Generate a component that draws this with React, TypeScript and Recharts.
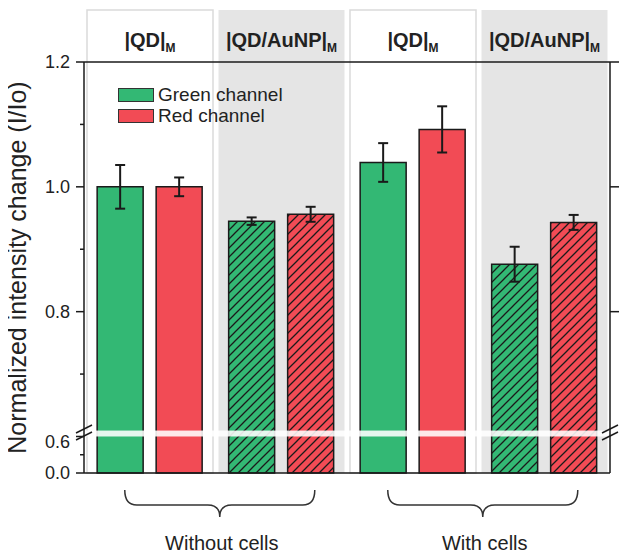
import {
  BarChart,
  Bar,
  XAxis,
  YAxis,
  ErrorBar,
  Cell,
  Legend,
  ReferenceArea,
  ReferenceLine,
} from 'recharts'

// broken y axis: 0-0.6 squeezed into a short segment, 0.6-1.2 at full scale

const CATEGORIES = ['|QD|', '|QD/AuNP|', '|QD|', '|QD/AuNP|']
const GROUPS = ['Without cells', 'Without cells', 'With cells', 'With cells']
const HATCHED = [false, true, false, true]
const GREEN = [1.0, 0.945, 1.039, 0.876]
const GREEN_ERR = [0.035, 0.006, 0.031, 0.028]
const RED = [1.0, 0.956, 1.092, 0.943]
const RED_ERR = [0.015, 0.012, 0.037, 0.012]
const MAJOR_TICKS = [0, 0.6, 0.8, 1.0, 1.2]
const MINOR_TICKS = [0.3, 0.7, 0.9, 1.1]
const RIGHT_TICKS = [0.8, 1.0, 1.2]
const BREAK_AT = 0.6
const Y_MAX = 1.2
const LOW_SPAN = 0.0585 // display height given to 0..0.6

const toDisp = (v: number) =>
  v <= BREAK_AT ? (v / BREAK_AT) * LOW_SPAN : LOW_SPAN + (v - BREAK_AT)
const D_MAX = toDisp(Y_MAX)

const COLORS = {
  green: '#33b874',
  red: '#f24b55',
  gray: '#e5e5e5',
  colBorder: '#dadada',
  ink: '#1a1a1a',
  text: '#222',
}

const FONT = '"Liberation Sans", Arial, Helvetica, sans-serif'
const W = 629
const H = 559
const PLOT_LEFT = 84
const PLOT_RIGHT = 610
const BAND = (PLOT_RIGHT - PLOT_LEFT) / CATEGORIES.length
const HEADER_H = 52

const data = CATEGORIES.map((label, i) => ({
  key: `c${i}`,
  label,
  group: GROUPS[i],
  hatched: HATCHED[i],
  green: toDisp(GREEN[i]),
  greenErr: GREEN_ERR[i],
  red: toDisp(RED[i]),
  redErr: RED_ERR[i],
  top: D_MAX,
}))

const isMajor = (v: number) => MAJOR_TICKS.find((t) => Math.abs(toDisp(t) - v) < 1e-6)

function LeftTick(props: any) {
  const { x, y, payload } = props
  const major = isMajor(payload.value)
  return (
    <g>
      <line x1={x - (major !== undefined ? 8 : 4)} x2={x} y1={y} y2={y} stroke={COLORS.ink} strokeWidth={1.5} />
      {major !== undefined && (
        <text
          x={x - 14}
          y={y + (major === BREAK_AT ? 12 : 6)}
          textAnchor="end"
          fontSize={18}
          fill={COLORS.text}
          fontFamily={FONT}
        >
          {major.toFixed(1)}
        </text>
      )}
    </g>
  )
}

function RightTick(props: any) {
  const { x, y } = props
  return <line x1={x} x2={x + 9} y1={y} y2={y} stroke={COLORS.ink} strokeWidth={1.5} />
}

// curly brace + group name under each pair of categories
function GroupTick(props: any) {
  const { x, y, index, payload } = props
  if (index % 2 !== 0) return <g />
  const xl = x - 0.19 * BAND
  const xr = x + 1.255 * BAND
  const xm = (xl + xr) / 2
  const yTop = y + 17
  const yMid = y + 32
  const yTip = y + 44
  const r = 12
  const d = `M${xl},${yTop} Q${xl},${yMid} ${xl + r},${yMid} L${xm - r},${yMid} Q${xm},${yMid} ${xm},${yTip} Q${xm},${yMid} ${xm + r},${yMid} L${xr - r},${yMid} Q${xr},${yMid} ${xr},${yTop}`
  const group = data[index]?.group ?? payload.value
  return (
    <g>
      <path d={d} fill="none" stroke="#333" strokeWidth={1.5} />
      <text x={xm + 2} y={y + 77} textAnchor="middle" fontSize={20} fill={COLORS.text} fontFamily={FONT}>
        {group}
      </text>
    </g>
  )
}

// gray / white column behind each category, with its header box
function ColumnShape(props: any) {
  const { x, y, width, height, payload } = props
  const top = y - HEADER_H
  return (
    <g>
      <rect
        x={x}
        y={top}
        width={width}
        height={height + HEADER_H}
        fill={payload.hatched ? COLORS.gray : '#fff'}
        stroke={payload.hatched ? 'none' : COLORS.colBorder}
        strokeWidth={1.5}
      />
      <text
        x={x + width / 2}
        y={top + 37}
        textAnchor="middle"
        fontSize={20}
        fontWeight="bold"
        fill={COLORS.text}
        fontFamily={FONT}
      >
        {payload.label}
        <tspan fontSize={12} dy={5}>
          M
        </tspan>
      </text>
    </g>
  )
}

function BreakShape(props: any) {
  const { x, y, width, height } = props
  const yc = y + height / 2 - 1
  const slash = (x0: number) =>
    [-3.5, 3.5].map((dy) => (
      <line
        key={`${x0}-${dy}`}
        x1={x0 - 8}
        y1={yc + dy + 4}
        x2={x0 + 8}
        y2={yc + dy - 4}
        stroke={COLORS.ink}
        strokeWidth={1.5}
      />
    ))
  return (
    <g>
      <rect x={x + 1} y={y} width={width - 2} height={height} fill="#fff" fillOpacity={0.88} />
      {slash(x)}
      {slash(x + width)}
    </g>
  )
}

function LegendContent(props: any) {
  const items = (props.payload || []).filter((p: any) => p.type !== 'none')
  return (
    <div style={{ display: 'flex', flexDirection: 'column', gap: 6, fontFamily: FONT }}>
      {items.map((p: any) => (
        <div key={p.value} style={{ display: 'flex', alignItems: 'center', height: 15 }}>
          <span
            style={{
              width: 34,
              height: 12,
              background: p.color,
              border: '1.5px solid #333',
              display: 'inline-block',
            }}
          />
          <span style={{ marginLeft: 4, fontSize: 19, color: COLORS.text }}>{p.value}</span>
        </div>
      ))}
    </div>
  )
}

function HatchDefs() {
  const pat = (id: string, color: string) => (
    <pattern id={id} patternUnits="userSpaceOnUse" width={9} height={9}>
      <rect width={9} height={9} fill={color} />
      <path d="M-2,2 l4,-4 M0,9 l9,-9 M7,11 l4,-4" stroke={COLORS.ink} strokeWidth={1.3} />
    </pattern>
  )
  return (
    <svg width={0} height={0} style={{ position: 'absolute' }}>
      <defs>
        {pat('hatch-green', COLORS.green)}
        {pat('hatch-red', COLORS.red)}
      </defs>
    </svg>
  )
}

export default function App() {
  // cancel the body margin so chart coordinates equal page coordinates
  return (
    <div style={{ width: W, height: H, margin: -8, position: 'relative', fontFamily: FONT }}>
      <HatchDefs />
      <BarChart
        width={W}
        height={H}
        data={data}
        margin={{ top: 62, right: 0, bottom: 0, left: 0 }}
        barCategoryGap="10%"
        barGap={13}
      >
        <XAxis xAxisId="bg" dataKey="key" hide />
        <XAxis
          dataKey="key"
          height={86}
          interval={0}
          tickSize={0}
          tickMargin={0}
          tickLine={false}
          axisLine={{ stroke: COLORS.ink, strokeWidth: 1.5 }}
          tick={GroupTick}
        />
        <YAxis
          width={PLOT_LEFT}
          domain={[0, D_MAX]}
          ticks={[...MAJOR_TICKS, ...MINOR_TICKS].map(toDisp).sort((a, b) => a - b)}
          interval={0}
          tickSize={0}
          tickMargin={0}
          tickLine={false}
          axisLine={{ stroke: COLORS.ink, strokeWidth: 1.5 }}
          tick={LeftTick}
          label={(p: any) => {
            const vb = p.viewBox || {}
            const cx = 26
            const cy = (vb.y ?? 62) + (vb.height ?? 411) / 2
            return (
              <text
                x={cx}
                y={cy}
                transform={`rotate(-90, ${cx}, ${cy})`}
                textAnchor="middle"
                fontSize={25}
                fill={COLORS.text}
                fontFamily={FONT}
              >
                Normalized intensity change (I/Io)
              </text>
            )
          }}
        />
        <YAxis
          yAxisId="right"
          orientation="right"
          width={W - PLOT_RIGHT}
          domain={[0, D_MAX]}
          ticks={RIGHT_TICKS.map(toDisp)}
          interval={0}
          tickSize={0}
          tickMargin={0}
          tickLine={false}
          axisLine={{ stroke: COLORS.ink, strokeWidth: 1.5 }}
          tick={RightTick}
        />
        <Bar
          xAxisId="bg"
          yAxisId="right"
          dataKey="top"
          barSize={126}
          legendType="none"
          isAnimationActive={false}
          shape={ColumnShape}
        />
        <Bar
          dataKey="green"
          name="Green channel"
          fill={COLORS.green}
          stroke={COLORS.ink}
          strokeWidth={1.5}
          isAnimationActive={false}
        >
          {data.map((d) => (
            <Cell key={d.key} fill={d.hatched ? 'url(#hatch-green)' : COLORS.green} />
          ))}
          <ErrorBar dataKey="greenErr" width={5} strokeWidth={2} stroke={COLORS.ink} />
        </Bar>
        <Bar
          dataKey="red"
          name="Red channel"
          fill={COLORS.red}
          stroke={COLORS.ink}
          strokeWidth={1.5}
          isAnimationActive={false}
        >
          {data.map((d) => (
            <Cell key={d.key} fill={d.hatched ? 'url(#hatch-red)' : COLORS.red} />
          ))}
          <ErrorBar dataKey="redErr" width={5} strokeWidth={2} stroke={COLORS.ink} />
        </Bar>
        <ReferenceLine y={D_MAX} stroke={COLORS.ink} strokeWidth={1.5} zIndex={1500} />
        <ReferenceArea
          y1={LOW_SPAN}
          y2={LOW_SPAN + 0.0095}
          shape={BreakShape}
          zIndex={1500}
          ifOverflow="visible"
        />
        <Legend
          layout="horizontal"
          verticalAlign="middle"
          align="center"
          wrapperStyle={{ left: 118, top: 87, width: 'auto' }}
          content={LegendContent}
        />
      </BarChart>
    </div>
  )
}
